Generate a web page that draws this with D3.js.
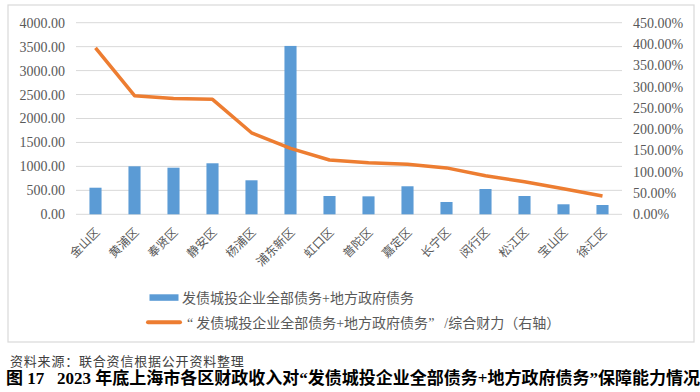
<!DOCTYPE html>
<html>
<head>
<meta charset="utf-8">
<script src="https://cdn.jsdelivr.net/npm/d3@7"></script>
<style>
  body { margin: 0; background: #fff; }
  svg { display: block; }
  .num { font-family: "Liberation Serif", "Noto Sans CJK SC", serif; }
</style>
</head>
<body>
<div id="grafica"></div>
<script>
// Datos de la gráfica
const distritos = ["金山区", "黄浦区", "奉贤区", "静安区", "杨浦区", "浦东新区", "虹口区",
                   "普陀区", "嘉定区", "长宁区", "闵行区", "松江区", "宝山区", "徐汇区"];
const deuda = [555, 1002, 973, 1065, 710, 3515, 382, 375, 585, 257, 528, 382, 209, 194];
const ratio = [391, 278.5, 272, 270, 191.5, 155, 127.5, 121, 117.5, 109, 90.5, 76.5, 60, 43];
const ticksIzq = [0, 500, 1000, 1500, 2000, 2500, 3000, 3500, 4000];
const ticksDer = [0, 50, 100, 150, 200, 250, 300, 350, 400, 450];
const serieBarras = "发债城投企业全部债务+地方政府债务";
const serieLinea = ["\u201c", "发债城投企业全部债务+地方政府债务", "\u201d", "/综合财力（右轴）"];
const fuente = "资料来源：联合资信根据公开资料整理";
const titulo = "图 17   2023 年底上海市各区财政收入对\u201c发债城投企业全部债务+地方政府债务\u201d保障能力情况";

const width = 700, height = 392;
const plot = {left: 76, right: 622, top: 22.7, bottom: 214.3};
const colorBarra = "#5B9BD5", colorLinea = "#ED7D31", colorTexto = "#595959";

const svg = d3.select("#grafica").append("svg")
    .attr("width", width)
    .attr("height", height);

//Marco del gráfico
svg.append("rect")
    .attr("x", 8).attr("y", 5)
    .attr("width", 686).attr("height", 337)
    .attr("fill", "#fff")
    .attr("stroke", "#d9d9d9")
    .attr("stroke-width", 1.2);

//Escalas
const x = d3.scaleBand().domain(distritos).range([plot.left, plot.right]);
const y = d3.scaleLinear().domain([0, 4000]).range([plot.bottom, plot.top]);
const y2 = d3.scaleLinear().domain([0, 450]).range([plot.bottom, plot.top]);

//Líneas de la cuadrícula
svg.append("g").selectAll("line")
    .data(ticksIzq)
    .enter().append("line")
    .attr("x1", plot.left).attr("x2", plot.right)
    .attr("y1", d => y(d)).attr("y2", d => y(d))
    .attr("stroke", "#d9d9d9")
    .attr("stroke-width", 1);

//Eje izquierdo
const ejeIzq = svg.append("g")
    .attr("transform", "translate(" + 65 + ",0)")
    .call(d3.axisLeft(y).tickValues(ticksIzq).tickSize(0).tickPadding(0).tickFormat(d3.format(".2f")));
ejeIzq.select(".domain").remove();
ejeIzq.selectAll("text")
    .attr("class", "num")
    .attr("font-size", 14)
    .attr("fill", colorTexto);

//Eje derecho
const ejeDer = svg.append("g")
    .attr("transform", "translate(" + 633 + ",0)")
    .call(d3.axisRight(y2).tickValues(ticksDer).tickSize(0).tickPadding(0).tickFormat(d => d3.format(".2f")(d) + "%"));
ejeDer.select(".domain").remove();
ejeDer.selectAll("text")
    .attr("class", "num")
    .attr("font-size", 14)
    .attr("fill", colorTexto);

//Barras
const anchoBarra = x.bandwidth() * 0.31;
svg.append("g").selectAll("rect")
    .data(distritos)
    .enter().append("rect")
    .attr("x", (d) => x(d) + x.bandwidth() / 2 - anchoBarra / 2)
    .attr("y", (d, i) => y(deuda[i]))
    .attr("width", anchoBarra)
    .attr("height", (d, i) => y(0) - y(deuda[i]))
    .attr("fill", colorBarra);

//Etiquetas del eje x, rotadas
svg.append("g").selectAll("text")
    .data(distritos)
    .enter().append("text")
    .attr("transform", d => "translate(" + (x(d) + x.bandwidth() / 2 + 5) + ",233) rotate(-45)")
    .attr("text-anchor", "end")
    .attr("font-family", "Noto Sans CJK SC")
    .attr("font-size", 12)
    .attr("fill", colorTexto)
    .text(d => d);

//Línea del eje derecho
const linea = d3.line()
    .x(d => x(d) + x.bandwidth() / 2)
    .y((d, i) => y2(ratio[i]));
svg.append("path")
    .datum(distritos)
    .attr("d", linea)
    .attr("fill", "none")
    .attr("stroke", colorLinea)
    .attr("stroke-width", 3.5)
    .attr("stroke-linejoin", "round");

//Leyenda
svg.append("rect")
    .attr("x", 149.5).attr("y", 294.3)
    .attr("width", 29).attr("height", 6.5)
    .attr("fill", colorBarra);
svg.append("line")
    .attr("x1", 148).attr("x2", 180)
    .attr("y1", 322.3).attr("y2", 322.3)
    .attr("stroke", colorLinea)
    .attr("stroke-width", 4)
    .attr("stroke-linecap", "round");
svg.append("text")
    .attr("class", "num")
    .attr("x", 182).attr("y", 302.5)
    .attr("font-size", 14)
    .attr("fill", colorTexto)
    .text(serieBarras);
const textoLinea = svg.append("text")
    .attr("class", "num")
    .attr("x", 187).attr("y", 328)
    .attr("font-size", 14)
    .attr("fill", colorTexto);
textoLinea.selectAll("tspan")
    .data(serieLinea)
    .enter().append("tspan")
    .attr("dx", (d, i) => [0, 3, 0, 10][i])
    .text(d => d);

//Fuente y título
svg.append("text")
    .attr("x", 10).attr("y", 366)
    .attr("font-family", "Noto Sans CJK SC")
    .attr("font-size", 13)
    .attr("letter-spacing", 0.8)
    .attr("fill", "#404040")
    .text(fuente);

svg.append("text")
    .attr("class", "num")
    .attr("x", 6).attr("y", 384)
    .attr("font-size", 17)
    .attr("font-weight", "bold")
    .attr("fill", "#000")
    .style("white-space", "pre")
    .text(titulo);
</script>
</body>
</html>
